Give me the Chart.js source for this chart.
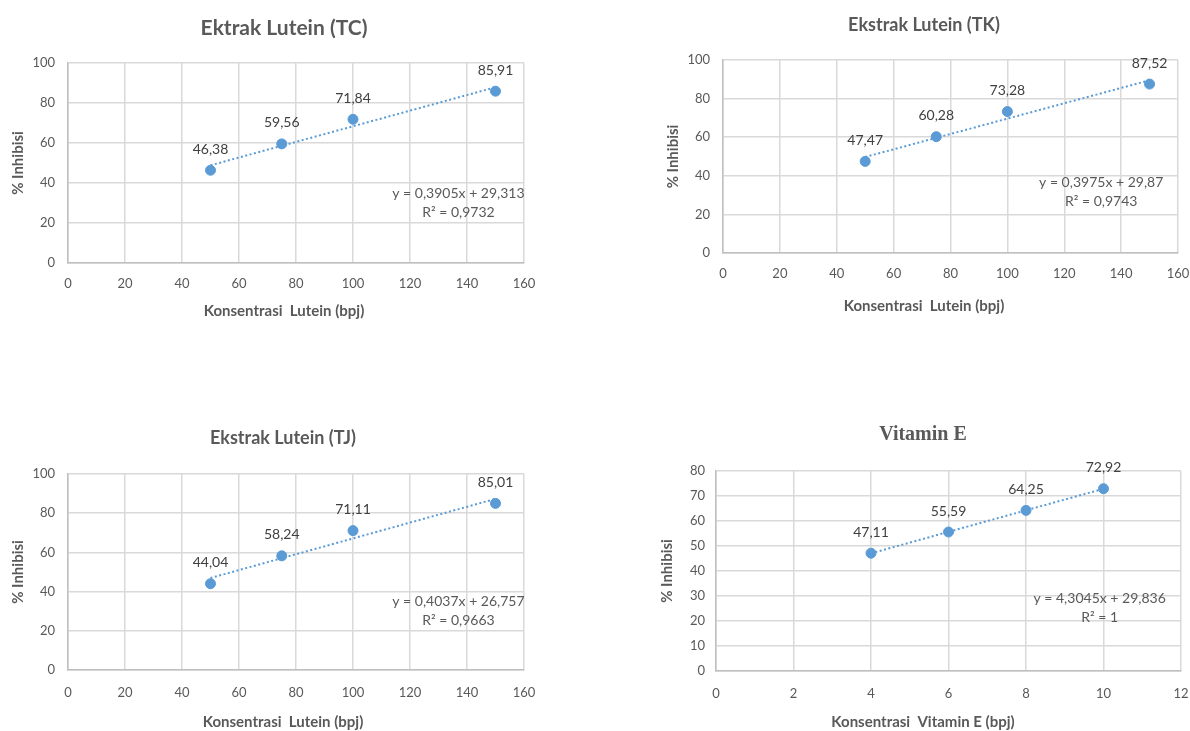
<!DOCTYPE html>
<html>
<head>
<meta charset="utf-8">
<title>% Inhibisi</title>
<script src="https://cdn.jsdelivr.net/npm/chart.js@4.4.1/dist/chart.umd.min.js"></script>
<style>
  body { margin: 0; background: #fff; overflow: hidden; }
  .box { position: absolute; }
</style>
</head>
<body>
<div class="box" style="left:0px;top:0px;width:568px;height:330px"><canvas id="tc"></canvas></div>
<div class="box" style="left:658px;top:0px;width:532px;height:330px"><canvas id="tk"></canvas></div>
<div class="box" style="left:0px;top:410px;width:566px;height:321px"><canvas id="tj"></canvas></div>
<div class="box" style="left:656px;top:410px;width:534px;height:321px"><canvas id="vite"></canvas></div>
<script>
// data
const luteinConc = [50, 75, 100, 150];
const tcInhibisi = [46.38, 59.56, 71.84, 85.91];
const tkInhibisi = [47.47, 60.28, 73.28, 87.52];
const tjInhibisi = [44.04, 58.24, 71.11, 85.01];
const vitEConc = [4, 6, 8, 10];
const vitEInhibisi = [47.11, 55.59, 64.25, 72.92];

// trendline equations (tc, tk, tj, vitamin e)
const fitSlope = [0.3905, 0.3975, 0.4037, 4.3045];
const fitIntercept = [29.313, 29.87, 26.757, 29.836];
const fitR2 = [0.9732, 0.9743, 0.9663, 1];

// tick labels
const luteinXTicks = [0, 20, 40, 60, 80, 100, 120, 140, 160];
const luteinYTicks = [0, 20, 40, 60, 80, 100];
const vitEXTicks = [0, 2, 4, 6, 8, 10, 12];
const vitEYTicks = [0, 10, 20, 30, 40, 50, 60, 70, 80];

const chartTitles = ["Ektrak Lutein (TC)", "Ekstrak Lutein (TK)", "Ekstrak Lutein (TJ)", "Vitamin E"];
const xTitles = ["Konsentrasi  Lutein (bpj)", "Konsentrasi  Lutein (bpj)", "Konsentrasi  Lutein (bpj)", "Konsentrasi  Vitamin E (bpj)"];
const yTitle = "% Inhibisi";

const blue = "#5b9bd5";
const tickGrey = "#595959";
const gridGrey = "#d9d9d9";

Chart.defaults.font.family = "Lato, sans-serif";
Chart.defaults.animation = false;

function comma(n) {
  return String(n).replace(".", ",");
}

const pointLabels = {
  id: "pointLabels",
  afterDatasetsDraw: function (chart, args, opts) {
    const ctx = chart.ctx;
    const meta = chart.getDatasetMeta(0);
    const pts = chart.data.datasets[0].data;
    ctx.save();
    ctx.font = "14px Lato, sans-serif";
    ctx.fillStyle = "#404040";
    ctx.textAlign = "center";
    ctx.textBaseline = "middle";
    meta.data.forEach(function (el, i) {
      ctx.fillText(pts[i].y.toFixed(2).replace(".", ","), el.x, el.y - 21);
    });
    // trendline equation
    const ex = chart.scales.x.getPixelForValue(opts.at[0]);
    const ey = chart.scales.y.getPixelForValue(opts.at[1]);
    ctx.fillStyle = tickGrey;
    ctx.fillText(opts.lines[0], ex, ey);
    ctx.fillText(opts.lines[1], ex, ey + 19);
    ctx.restore();
  },
};

function makeChart(id, k, xs, ys, xTicks, yTicks, g) {
  const pts = xs.map(function (x, i) {
    return { x: x, y: ys[i] };
  });
  const x0 = xs[0];
  const x1 = xs[xs.length - 1];
  const trend = [
    { x: x0, y: fitSlope[k] * x0 + fitIntercept[k] },
    { x: x1, y: fitSlope[k] * x1 + fitIntercept[k] },
  ];

  return new Chart(document.getElementById(id), {
    type: "scatter",
    data: {
      datasets: [
        {
          data: pts,
          backgroundColor: blue,
          borderColor: blue,
          pointRadius: 5,
          order: 0,
        },
        {
          type: "line",
          data: trend,
          borderColor: blue,
          borderWidth: 2,
          borderDash: [2, 2.5],
          pointRadius: 0,
          fill: false,
          order: 1,
        },
      ],
    },
    options: {
      responsive: true,
      maintainAspectRatio: false,
      events: [],
      layout: { padding: 0 },
      scales: {
        x: {
          type: "linear",
          min: xTicks[0],
          max: xTicks[xTicks.length - 1],
          afterBuildTicks: function (s) {
            s.ticks = xTicks.map(function (v) { return { value: v }; });
          },
          afterFit: function (s) {
            s.height = g.xH;
            // let the last tick label hang into the right margin
            s.paddingLeft = 0;
            s.paddingRight = 0;
          },
          grid: { color: gridGrey, lineWidth: 1.5, drawTicks: false },
          border: { color: "#bfbfbf", width: 1.5 },
          ticks: {
            color: tickGrey,
            padding: g.xtPad,
            maxRotation: 0,
            font: { size: 13 },
          },
        },
        y: {
          type: "linear",
          min: yTicks[0],
          max: yTicks[yTicks.length - 1],
          afterBuildTicks: function (s) {
            s.ticks = yTicks.map(function (v) { return { value: v }; });
          },
          afterFit: function (s) {
            s.width = g.yW;
          },
          grid: { color: gridGrey, lineWidth: 1.5, drawTicks: false },
          border: { color: "#bfbfbf", width: 1.5 },
          ticks: {
            color: tickGrey,
            padding: g.ytPad,
            font: { size: 13 },
          },
          title: {
            display: true,
            text: yTitle,
            color: tickGrey,
            font: { size: 15, weight: "bold" },
            padding: { top: g.yTitlePad, bottom: 0 },
          },
        },
        // empty box on the right so the titles centre on the whole chart
        spacer: {
          type: "linear",
          position: "right",
          display: true,
          grid: { display: false },
          border: { display: false },
          ticks: { display: false },
          afterFit: function (s) {
            s.width = g.rightW;
          },
        },
      },
      plugins: {
        legend: { display: false },
        tooltip: { enabled: false },
        title: {
          display: true,
          text: chartTitles[k],
          color: tickGrey,
          font: g.titleFont,
          padding: { top: g.titlePadTop, bottom: g.titlePadBottom },
        },
        subtitle: {
          display: true,
          position: "bottom",
          text: xTitles[k],
          color: tickGrey,
          font: { size: 15, weight: "bold" },
          padding: { top: 2, bottom: g.xTitlePad },
        },
        pointLabels: {
          at: g.eqAt,
          lines: [
            "y = " + comma(fitSlope[k]) + "x + " + comma(fitIntercept[k]),
            "R² = " + comma(fitR2[k]),
          ],
        },
      },
    },
    plugins: [pointLabels],
  });
}

makeChart("tc", 0, luteinConc, tcInhibisi, luteinXTicks, luteinYTicks, {
  yW: 68, rightW: 44, xH: 37,
  titleFont: { size: 21, weight: "bold" }, titlePadTop: 15.4, titlePadBottom: 22.4,
  yTitlePad: 9, xTitlePad: 10, xtPad: 13.2, ytPad: 13,
  eqAt: [137, 35],
});

makeChart("tk", 1, luteinConc, tkInhibisi, luteinXTicks, luteinYTicks, {
  yW: 65, rightW: 12, xH: 42,
  titleFont: { size: 18, weight: "bold" }, titlePadTop: 14.2, titlePadBottom: 24.2,
  yTitlePad: 6, xTitlePad: 15, xtPad: 13.2, ytPad: 13,
  eqAt: [133, 36.3],
});

makeChart("tj", 2, luteinConc, tjInhibisi, luteinXTicks, luteinYTicks, {
  yW: 68, rightW: 42, xH: 41,
  titleFont: { size: 18, weight: "bold" }, titlePadTop: 17.2, titlePadBottom: 25.2,
  yTitlePad: 9, xTitlePad: 0, xtPad: 15.2, ytPad: 13,
  eqAt: [137, 35.2],
});

makeChart("vite", 3, vitEConc, vitEInhibisi, vitEXTicks, vitEYTicks, {
  yW: 60, rightW: 9, xH: 40,
  titleFont: { size: 20, weight: "bold", family: "'Liberation Serif', 'DejaVu Serif', serif" },
  titlePadTop: 13, titlePadBottom: 24,
  yTitlePad: 2, xTitlePad: 0, xtPad: 15.2, ytPad: 11,
  eqAt: [9.9, 29.2],
});
</script>
</body>
</html>
